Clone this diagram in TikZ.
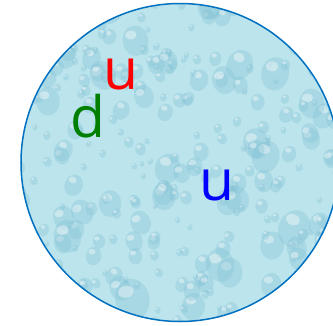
\documentclass[tikz,border=0pt]{standalone}
\usepackage{fontspec}
\newfontfamily\lblfont{Open Sans}
\definecolor{waterbg}{RGB}{188,228,236}
\definecolor{dropdark}{RGB}{125,190,210}
\definecolor{rimblue}{RGB}{0,112,192}
\definecolor{qgreen}{RGB}{0,128,0}
\tikzset{
  quark/.style={font=\lblfont\fontsize{57}{57}\selectfont, anchor=base, inner sep=0pt},
  drop/.style={fill=dropdark, fill opacity=0.3},
  shine/.style={fill=white, fill opacity=0.4}
}
\begin{document}
\begin{tikzpicture}[x=1pt,y=-1pt]
\useasboundingbox (0,0) rectangle (333,325);
\coordinate (c) at (180,162.5);
\begin{scope}
  \clip (0,0) rectangle (333,325);
  \begin{scope}
    \clip (c) circle[radius=159];
    \fill[waterbg] (c) circle[radius=159];
    \pgfmathsetseed{11}
    \foreach \i in {1,...,330}{
      \pgfmathsetmacro{\dx}{rnd*340}
      \pgfmathsetmacro{\dy}{rnd*330}
      \pgfmathsetmacro{\dr}{2.5+rnd*rnd*15}
      \pgfmathsetmacro{\da}{rnd*60-30}
      \fill[drop, rotate around={\da:(\dx,\dy)}] (\dx,\dy) ellipse[x radius=\dr, y radius=1.2*\dr];
      \fill[shine, rotate around={\da:(\dx,\dy)}] ({\dx-0.3*\dr},{\dy-0.5*\dr}) ellipse[x radius=0.45*\dr, y radius=0.35*\dr];
    }
  \end{scope}
  \draw[rimblue, line width=1.5pt] (c) circle[radius=159];
\end{scope}
\node[quark, text=red] (u1) at (121,89) {u};
\node[quark, text=qgreen] (d1) at (88,137) {d};
\node[quark, text=blue] (u2) at (217,200) {u};
\end{tikzpicture}
\end{document}
